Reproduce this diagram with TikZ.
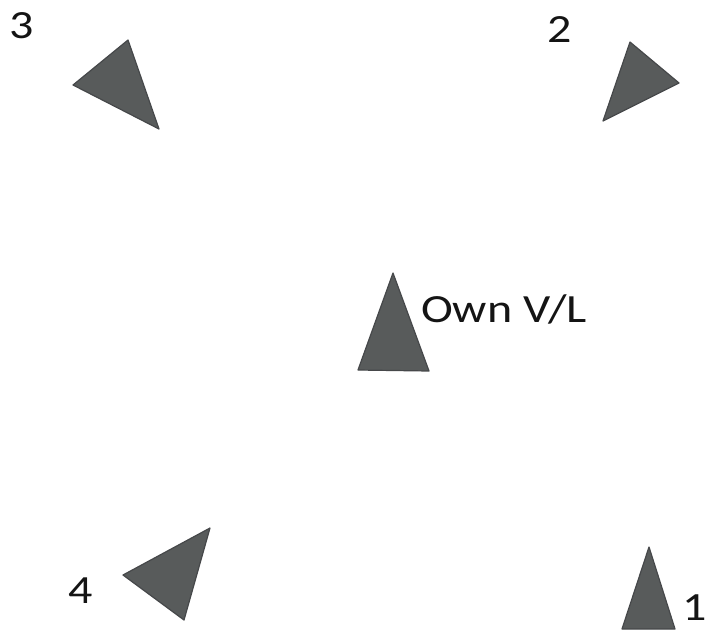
\documentclass[tikz,border=0pt]{standalone}
\usepackage{fontspec}
\setmainfont{Carlito}[FakeStretch=1.2]
\usepackage{tikz}
\usetikzlibrary{positioning}
\definecolor{ShipGray}{RGB}{88,91,91}
\definecolor{ShipEdge}{RGB}{70,72,74}

\begin{document}
\begin{tikzpicture}[x=1pt,y=-1pt]
  \tikzset{
    ship/.style={fill=ShipGray,draw=ShipEdge,line width=1.2pt,line join=round},
    tag/.style={inner sep=0pt,anchor=base,font=\fontsize{40}{44}\selectfont,text=black!92}
  }
  \useasboundingbox (0,0) rectangle (711,629);
  % own vessel
  \draw[ship] (393,273)--(358,370)--(429,371)--cycle;
  \node[tag,anchor=base west] (own) at (421,322) {Own V/L};
  % targets
  \draw[ship] (649,547)--(622,629)--(675,629)--cycle;
  \node[tag] (t1) at (695,620) {1};
  \draw[ship] (630,42)--(679,83)--(603,121)--cycle;
  \node[tag] (t2) at (560,42) {2};
  \draw[ship] (128,40)--(73,85)--(159,129)--cycle;
  \node[tag] (t3) at (22,38) {3};
  \draw[ship] (210,528)--(123,575)--(184,620)--cycle;
  \node[tag] (t4) at (81,603) {4};
\end{tikzpicture}
\end{document}
